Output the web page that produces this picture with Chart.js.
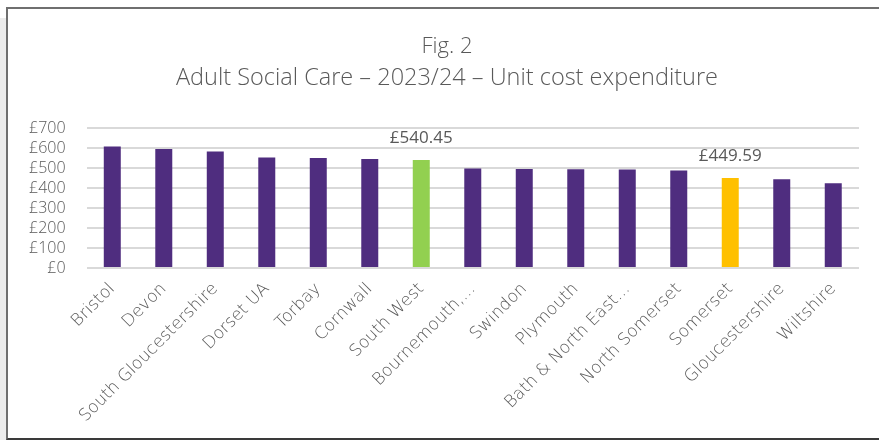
<!DOCTYPE html>
<html>
<head>
<meta charset="utf-8">
<script src="https://cdn.jsdelivr.net/npm/chart.js@4"></script>
<style>
  body { margin: 0; background: #fff; }
  #wrap { position: relative; width: 879px; height: 440px; overflow: hidden; }
  #shade { position: absolute; left: 0; top: 18px; width: 6px; height: 422px; background: #ececec; }
  #frame {
    position: absolute; left: 6px; top: 7px; width: 900px; height: 429px;
    border-top: 2px solid #6f6f6f; border-left: 2px solid #6f6f6f; border-bottom: 2px solid #3a3a3a;
  }
  canvas { position: absolute; left: 0; top: 0; }
</style>
</head>
<body>
<div id="wrap">
  <div id="shade"></div>
  <div id="frame"></div>
  <canvas id="costChart" width="879" height="440"></canvas>
</div>
<script>
// unit cost per council, 2023/24
const councils = [
  "Bristol", "Devon", "South Gloucestershire", "Dorset UA", "Torbay", "Cornwall",
  "South West", "Bournemouth,...", "Swindon", "Plymouth", "Bath & North East...",
  "North Somerset", "Somerset", "Gloucestershire", "Wiltshire"
];
const unitCost = [608, 595, 583, 553, 550, 545, 540.45, 497, 495, 494, 493, 488, 449.59, 444, 424];
const yTicks = [0, 100, 200, 300, 400, 500, 600, 700];
const labelled = ["South West", "Somerset"];

const figTitle = "Fig. 2";
const figSubtitle = "Adult Social Care – 2023/24 – Unit cost expenditure";

const purple = "#4f2d7f";
const highlight = { "South West": "#92d050", "Somerset": "#ffc000" };
const textGrey = "#595959";

// heading sits slightly right of the canvas centre, so draw it by hand
const heading = {
  id: "heading",
  afterDraw(chart) {
    const ctx = chart.ctx;
    ctx.save();
    ctx.fillStyle = textGrey;
    ctx.textAlign = "center";
    ctx.textBaseline = "middle";
    ctx.font = "300 22px 'Open Sans'";
    ctx.fillText(figTitle, 447, 47);
    ctx.font = "300 23.5px 'Open Sans'";
    ctx.fillText(figSubtitle, 447, 78);
    ctx.restore();
  }
};

// write the value above the highlighted bars
const valueLabels = {
  id: "valueLabels",
  afterDatasetsDraw(chart) {
    const ctx = chart.ctx;
    const meta = chart.getDatasetMeta(0);
    ctx.save();
    ctx.font = "17px 'Open Sans'";
    ctx.fillStyle = textGrey;
    ctx.textAlign = "center";
    ctx.textBaseline = "bottom";
    councils.forEach((name, i) => {
      if (!labelled.includes(name)) return;
      const bar = meta.data[i];
      ctx.fillText("£" + unitCost[i].toFixed(2), bar.x, bar.y - 13);
    });
    ctx.restore();
  }
};

new Chart(document.getElementById("costChart"), {
  type: "bar",
  data: {
    labels: councils,
    datasets: [{
      data: unitCost,
      backgroundColor: councils.map(c => highlight[c] || purple),
      barPercentage: 0.33,
      categoryPercentage: 1
    }]
  },
  options: {
    responsive: false,
    animation: false,
    layout: { padding: { left: 8, right: 20, top: 128, bottom: 2 } },
    plugins: {
      legend: { display: false },
      tooltip: { enabled: false }
    },
    scales: {
      x: {
        // long rotated names need more room than the default half-height cap
        afterFit(axis) { axis.height = 170; },
        grid: { display: false },
        border: { display: false },
        ticks: {
          color: textGrey,
          font: { family: "DejaVu Sans", size: 17, weight: "200" },
          maxRotation: 45,
          minRotation: 45,
          autoSkip: false
        }
      },
      y: {
        min: 0,
        max: 700,
        afterBuildTicks(axis) { axis.ticks = yTicks.map(v => ({ value: v })); },
        grid: { color: "#d9d9d9", lineWidth: 2, drawTicks: false },
        border: { display: false },
        ticks: {
          color: textGrey,
          font: { family: "Open Sans", size: 16, weight: "300" },
          padding: 21,
          autoSkip: false,
          callback: v => "£" + v
        }
      }
    }
  },
  plugins: [valueLabels, heading]
});
</script>
</body>
</html>
